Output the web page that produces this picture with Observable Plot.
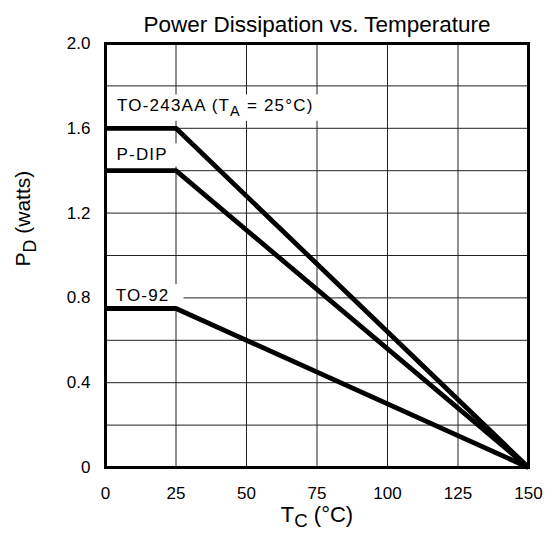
<!DOCTYPE html>
<html>
<head>
<meta charset="utf-8">
<script src="https://cdn.jsdelivr.net/npm/d3@7"></script>
<script src="https://cdn.jsdelivr.net/npm/@observablehq/plot@0.6"></script>
<style>
  html, body { margin: 0; padding: 0; background: #fff; }
  svg { font-family: "Liberation Sans", Arial, Helvetica, sans-serif; }
</style>
</head>
<body>
<div id="chart"></div>
<script>
const title = "Power Dissipation vs. Temperature";
const xLabel = "T_C (°C)";
const yLabel = "P_D (watts)";

const tempC = [0, 25, 150];
const seriesNames = ["TO-243AA", "P-DIP", "TO-92"];
const to243aa = [1.6, 1.6, 0];
const pdip = [1.4, 1.4, 0];
const to92 = [0.75, 0.75, 0];

const xTicks = [0, 25, 50, 75, 100, 125, 150];
const yTicks = [0, 0.4, 0.8, 1.2, 1.6, 2.0];
const yTickLabels = ["0", "0.4", "0.8", "1.2", "1.6", "2.0"];
const yGrid = [0.2, 0.4, 0.6, 0.8, 1.0, 1.2, 1.4, 1.6, 1.8];
const xGrid = [25, 50, 75, 100, 125];

const labelTexts = ["TO-243AA (T_A = 25°C)", "P-DIP", "TO-92"];
const labelX = [4.1, 3.9, 3.6];
const labelY = [1.705, 1.474, 0.81];

const seriesValues = [to243aa, pdip, to92];
const lineData = seriesNames.flatMap((s, i) =>
  tempC.map((t, j) => ({series: s, x: t, y: seriesValues[i][j]})));
const labelData = labelTexts.map((t, i) => ({text: t, x: labelX[i], y: labelY[i]}));

const plot = Plot.plot({
  width: 553,
  height: 537,
  marginLeft: 105,
  marginRight: 25,
  marginTop: 43,
  marginBottom: 70,
  style: {fontFamily: '"Liberation Sans", Arial, Helvetica, sans-serif', background: "#fff"},
  x: {domain: [0, 150]},
  y: {domain: [0, 2.0]},
  marks: [
    Plot.gridY(yGrid, {stroke: "#222", strokeOpacity: 1, strokeWidth: 1}),
    Plot.gridX(xGrid, {stroke: "#222", strokeOpacity: 1, strokeWidth: 1}),
    Plot.text(labelData, {x: "x", y: "y", text: "text", textAnchor: "start",
      fontSize: 17, fill: "#000", className: "series-label"}),
    Plot.line(lineData, {x: "x", y: "y", z: "series", stroke: "#000", strokeWidth: 4.8,
      strokeLinejoin: "miter", strokeLinecap: "butt"}),
    Plot.frame({stroke: "#000", strokeWidth: 3}),
    Plot.axisX(xTicks, {tickSize: 0, tickPadding: 19, fontSize: 17, label: null,
      tickFormat: d => String(d)}),
    Plot.axisY(yTicks, {tickSize: 0, tickPadding: 15, fontSize: 17, label: null,
      tickFormat: d => yTickLabels[yTicks.indexOf(d)]}),
    Plot.text([title], {frameAnchor: "top", dy: -27, fontSize: 22.5, fill: "#000", className: "chart-title"}),
    Plot.text([xLabel], {frameAnchor: "bottom", dy: 54, fontSize: 22, fill: "#000", className: "axis-label"}),
    Plot.text([yLabel], {frameAnchor: "left", dx: -82, dy: 11, rotate: -90, fontSize: 21, fill: "#000", className: "axis-label"})
  ]
});

document.getElementById("chart").appendChild(plot);

const svg = d3.select(plot);
svg.selectAll("g.series-label text").style("letter-spacing", "1.2px");

// Subscript rendering: "X_Y" -> X with subscript Y
svg.selectAll("text").each(function() {
  const el = d3.select(this);
  const tspans = el.selectAll("tspan");
  const target = tspans.empty() ? el : tspans;
  target.each(function() {
    const t = d3.select(this);
    const s = t.text();
    const m = s.match(/^(.*?)([A-Za-z])_([A-Za-z])(.*)$/);
    if (!m) return;
    t.text(null);
    t.append("tspan").text(m[1] + m[2]);
    t.append("tspan").attr("dy", "0.3em").attr("font-size", "0.85em").text(m[3]);
    t.append("tspan").attr("dy", "-0.255em").text(m[4]);
  });
});

// White backgrounds behind series labels (they interrupt grid lines)
svg.selectAll("g.series-label text").each(function() {
  const bb = this.getBBox();
  const tr = this.getAttribute("transform");
  d3.select(this.parentNode).insert("rect", () => this)
    .attr("transform", tr)
    .attr("x", bb.x - 11).attr("y", bb.y - 2)
    .attr("width", bb.width + 25).attr("height", bb.height + 4)
    .attr("fill", "#fff");
});
</script>
</body>
</html>
